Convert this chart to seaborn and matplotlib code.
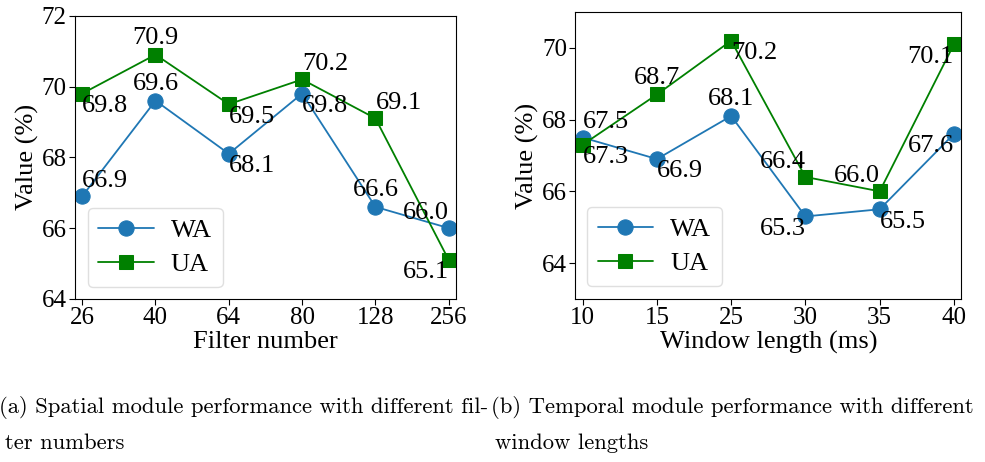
import numpy as np
import pandas as pd
import matplotlib
matplotlib.use("Agg")
import matplotlib.pyplot as plt
import seaborn as sns

# data
filters = ["26", "40", "64", "80", "128", "256"]
filt_wa = [66.9, 69.6, 68.1, 69.8, 66.6, 66.0]
filt_ua = [69.8, 70.9, 69.5, 70.2, 69.1, 65.1]
# where each value label sits relative to its point
filt_wa_pos = ["ar", "a", "br", "br", "a", "al"]
filt_ua_pos = ["br", "a", "br", "ar", "ar", "bl"]

windows = ["10", "15", "25", "30", "35", "40"]
win_wa = [67.5, 66.9, 68.1, 65.3, 65.5, 67.6]
win_ua = [67.3, 68.7, 70.2, 66.4, 66.0, 70.1]
win_wa_pos = ["ar", "br", "a", "bl", "br", "bl"]
win_ua_pos = ["br", "a", "br", "al", "al", "bl"]

sns.set_style("ticks")
plt.rcParams["font.family"] = ["Liberation Serif", "DejaVu Serif"]
plt.rcParams["text.color"] = "black"
plt.rcParams["axes.labelcolor"] = "black"
plt.rcParams["xtick.color"] = "black"
plt.rcParams["ytick.color"] = "black"

FS = 19
TFS = 18
BLUE = "#1f77b4"
GREEN = "#008000"

# offsets (points) and alignments for label positions
POS = {
    "a": ((0, 4), "center", "bottom"),
    "ar": ((0, 3), "left", "bottom"),
    "al": ((0, 3), "right", "bottom"),
    "br": ((0, -1), "left", "top"),
    "bl": ((0, -1), "right", "top"),
}


def panel(ax, labels, wa, ua, wa_pos, ua_pos, xlabel, ylim, yticks, legpos):
    df = pd.DataFrame({"x": np.arange(len(labels)), "WA": wa, "UA": ua})
    sns.lineplot(data=df, x="x", y="WA", ax=ax, color=BLUE, marker="o",
                 markersize=11, markeredgecolor=BLUE, linewidth=1.3, label="WA")
    sns.lineplot(data=df, x="x", y="UA", ax=ax, color=GREEN, marker="s",
                 markersize=10, markeredgecolor=GREEN, linewidth=1.3, label="UA")
    for vals, poss in ((wa, wa_pos), (ua, ua_pos)):
        for i, (v, p) in enumerate(zip(vals, poss)):
            off, ha, va = POS[p]
            ax.annotate(f"{v:.1f}", (i, v), xytext=off, textcoords="offset points",
                        ha=ha, va=va, fontsize=FS)
    ax.set_xticks(np.arange(len(labels)))
    ax.set_xticklabels(labels)
    ax.set_xlim(-0.1, len(labels) - 0.9)
    ax.set_ylim(*ylim)
    ax.set_yticks(yticks)
    ax.tick_params(labelsize=TFS, length=4, width=0.8, pad=2)
    ax.set_xlabel(xlabel, fontsize=FS, labelpad=1)
    ax.set_ylabel("Value (%)", fontsize=FS, labelpad=2)
    for s in ax.spines.values():
        s.set_linewidth(0.8)
        s.set_color("black")
    leg = ax.legend(loc="lower left", bbox_to_anchor=legpos, borderaxespad=0,
                    fontsize=FS, handlelength=2.1, handletextpad=0.65,
                    borderpad=0.4, labelspacing=0.42, frameon=True)
    leg.get_frame().set_edgecolor("#d8d8d8")


fig = plt.figure(figsize=(9.85, 4.62), dpi=100)
ax1 = fig.add_axes([0.076, 0.353, 0.387, 0.613])
ax2 = fig.add_axes([0.584, 0.353, 0.392, 0.621])

panel(ax1, filters, filt_wa, filt_ua, filt_wa_pos, filt_ua_pos,
      "Filter number", (64, 72), [64, 66, 68, 70, 72], (0.034, 0.042))
panel(ax2, windows, win_wa, win_ua, win_wa_pos, win_ua_pos,
      "Window length (ms)", (63, 71), [64, 66, 68, 70], (0.031, 0.045))

cap = dict(fontsize=16.3, family=["cmr10", "DejaVu Serif"], va="center")
fig.text(-0.001, 0.117, "(a) Spatial module performance with different fil-", **cap)
fig.text(0.005, 0.041, "ter numbers", **cap)
fig.text(0.498, 0.117, "(b) Temporal module performance with different", **cap)
fig.text(0.503, 0.041, "window lengths", **cap)

fig.savefig("out.png", dpi=100)
